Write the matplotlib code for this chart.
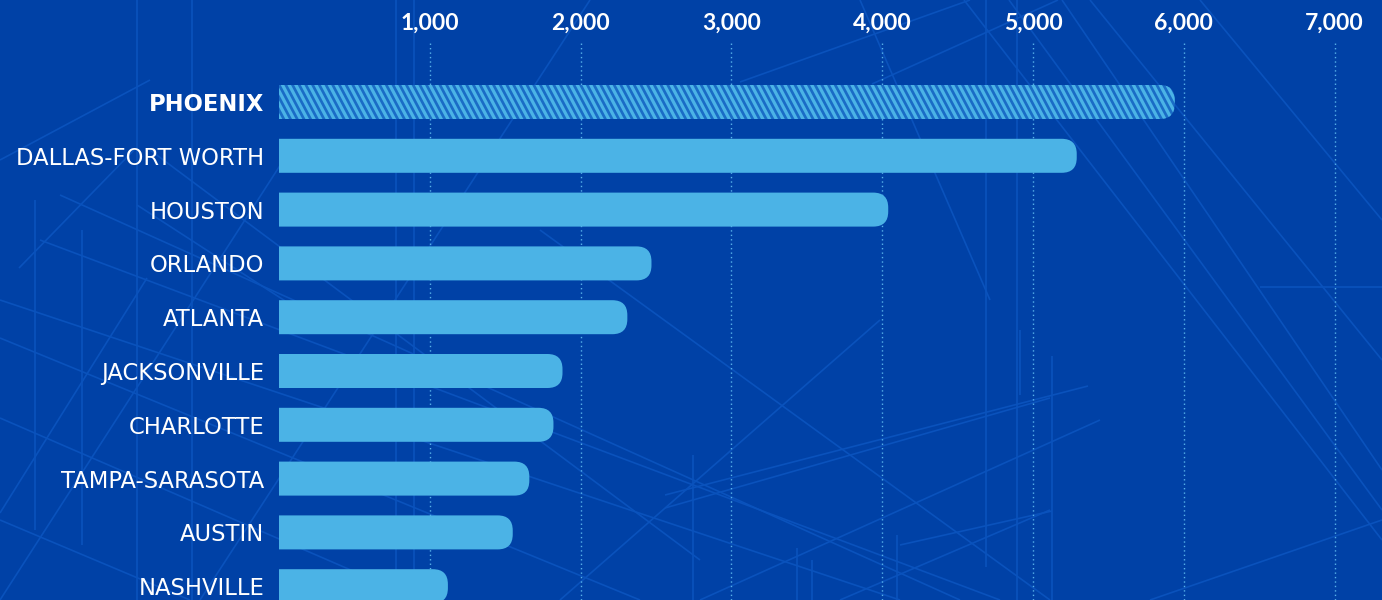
import matplotlib
matplotlib.use("Agg")
import matplotlib.pyplot as plt
from matplotlib.patches import FancyBboxPatch
from matplotlib.collections import LineCollection
import numpy as np

# ---- data -------------------------------------------------------------
metros = ["PHOENIX", "DALLAS-FORT WORTH", "HOUSTON", "ORLANDO", "ATLANTA",
          "JACKSONVILLE", "CHARLOTTE", "TAMPA-SARASOTA", "AUSTIN", "NASHVILLE"]
values = [5940, 5290, 4040, 2470, 2310, 1880, 1820, 1660, 1550, 1120]
tick_values = [1000, 2000, 3000, 4000, 5000, 6000, 7000]
tick_labels = ["1,000", "2,000", "3,000", "4,000", "5,000", "6,000", "7,000"]
highlight = "PHOENIX"

# ---- style ------------------------------------------------------------
BG = "#0041A6"
DECO = "#0A52BC"
BAR = "#4BB3E6"
HATCH_GAP = "#1A6CC6"
GRID = "#58B2EA"
W_PX, H_PX, DPI = 1382, 600, 100

fig = plt.figure(figsize=(W_PX / DPI, H_PX / DPI), dpi=DPI, facecolor=BG)

# background artwork: thin architectural lines in pixel space
bg = fig.add_axes([0, 0, 1, 1], zorder=0)
bg.set_xlim(0, W_PX)
bg.set_ylim(H_PX, 0)
bg.axis("off")
bg.set_facecolor(BG)
deco_segments = [
    # verticals
    ((137, 0), (137, 600)), ((192, 0), (192, 600)), ((396, 0), (396, 600)),
    ((414, 0), (414, 600)), ((35, 200), (35, 530)), ((82, 230), (82, 545)),
    ((986, 0), (986, 567)), ((1017, 0), (1017, 600)), ((1052, 356), (1052, 600)),
    ((1020, 330), (1020, 395)), ((693, 455), (693, 600)), ((797, 548), (797, 600)),
    ((812, 560), (812, 600)), ((897, 535), (897, 600)),
    # horizontal
    ((1260, 287), (1382, 287)),
    # long diagonals down to the right
    ((964, 0), (1382, 540)), ((1009, 0), (1382, 510)), ((1062, 0), (1382, 470)),
    ((1090, 0), (1382, 360)), ((1200, 0), (1382, 220)),
    ((0, 338), (640, 600)), ((0, 418), (420, 600)), ((0, 300), (900, 600)),
    ((40, 240), (1000, 600)), ((60, 195), (960, 600)), ((150, 150), (700, 560)),
    ((0, 520), (190, 600)), ((137, 205), (330, 330)),
    ((860, 0), (990, 300)), ((540, 230), (1050, 600)),
    # diagonals rising to the right
    ((0, 160), (150, 80)), ((19, 268), (134, 150)), ((0, 513), (147, 278)),
    ((0, 600), (290, 150)), ((740, 82), (970, 0)), ((872, 84), (1058, 0)),
    ((665, 495), (1088, 386)), ((665, 508), (1050, 398)),
    ((840, 600), (1050, 510)), ((900, 545), (1052, 511)),
    ((200, 600), (590, 0)), ((560, 600), (880, 320)), ((700, 600), (1100, 420)),
    ((1150, 600), (1382, 520)),
]
bg.add_collection(LineCollection(deco_segments, colors=DECO, linewidths=1.2))

# ---- main chart axes --------------------------------------------------
zero_px = 279
px_per_unit_x = 150.8 / 1000.0
row_px = 53.8
first_row_px = 102
axes_top_px = 42

x_max = (W_PX - zero_px) / px_per_unit_x
y_top = (axes_top_px - first_row_px) / row_px
y_bottom = (H_PX - first_row_px) / row_px

ax = fig.add_axes([zero_px / W_PX, 0, (W_PX - zero_px) / W_PX,
                   (H_PX - axes_top_px) / H_PX], zorder=1)
ax.set_facecolor("none")
ax.set_xlim(0, x_max)
ax.set_ylim(y_bottom, y_top)
for s in ax.spines.values():
    s.set_visible(False)

# dotted vertical gridlines behind the bars
ax.set_axisbelow(True)
ax.xaxis.tick_top()
ax.set_xticks(tick_values)
ax.set_xticklabels(tick_labels)
ax.tick_params(axis="x", length=0, pad=6, labelsize=16.5, labelcolor="white")
for t in ax.get_xticklabels():
    t.set_fontfamily(["Lato", "DejaVu Sans"])
    t.set_fontweight("bold")
ax.grid(axis="x", color=GRID, linewidth=1.0, linestyle=(0, (1, 2.2)))
ax.grid(axis="y", visible=False)

# metro labels on the left
rows = np.arange(len(metros))
ax.set_yticks(rows)
ax.set_yticklabels(metros)
ax.tick_params(axis="y", length=0, pad=10.5, labelsize=16.3, labelcolor="white")
for t, name in zip(ax.get_yticklabels(), metros):
    t.set_fontfamily(["DejaVu Sans"])
    if name == highlight:
        t.set_fontweight("bold")
        t.set_fontsize(16.3)

# bars with a rounded right end
bar_h = 34 / row_px
r_px = 15
rx = r_px / px_per_unit_x
ry = r_px / row_px
for i, (name, v) in enumerate(zip(metros, values)):
    is_hl = name == highlight
    patch = FancyBboxPatch((-2 * rx, i - bar_h / 2), v + 2 * rx, bar_h,
                           boxstyle=f"round,pad=0,rounding_size={rx}",
                           mutation_aspect=ry / rx,
                           facecolor=HATCH_GAP if is_hl else BAR,
                           edgecolor="none", zorder=3)
    ax.add_patch(patch)
    if is_hl:
        # steep diagonal stripes clipped to the bar outline
        pitch_px = 6.7
        shift_px = 18.0
        dx = shift_px / px_per_unit_x
        step = pitch_px / px_per_unit_x
        starts = np.arange(-dx - step, v + step, step)
        segs = [((s0, i - bar_h / 2 - 0.05), (s0 + dx * (bar_h + 0.1) / bar_h,
                                               i + bar_h / 2 + 0.05)) for s0 in starts]
        stripes = LineCollection(segs, colors=BAR, linewidths=2.3, zorder=4,
                                 capstyle="butt")
        ax.add_collection(stripes)
        stripes.set_clip_path(patch)

fig.savefig("out.png", dpi=DPI, facecolor=BG)
